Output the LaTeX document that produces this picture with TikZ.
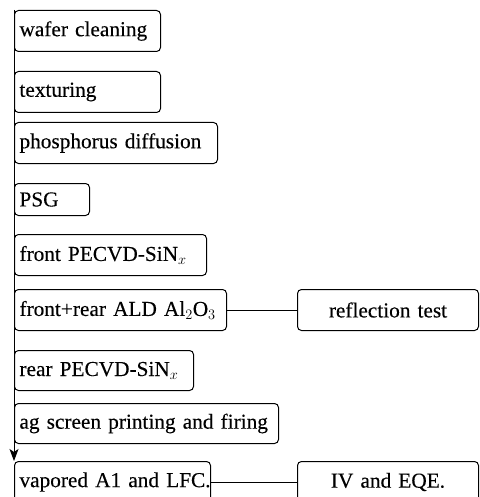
\documentclass[tikz,border=0pt]{standalone}
\usepackage{fontspec}
\setmainfont{Liberation Serif}[FakeBold=0.25]
\usetikzlibrary{arrows.meta}
\begin{document}
\begin{tikzpicture}[x=1pt,y=-1pt,
  stepbox/.style={draw, line width=1pt, rounded corners=4pt, anchor=north west,
    inner xsep=5pt, inner ysep=0pt, align=left, font=\fontsize{21.3}{25}\selectfont},
  testbox/.style={stepbox, align=center},
  conn/.style={line width=1pt}]
\useasboundingbox (0,0) rectangle (479,497);
\clip (0,0) rectangle (479,497);
\node[stepbox, minimum height=41pt, text width=136pt] (b1) at (14,10) {\mbox{wafer cleaning}};
\node[stepbox, minimum height=41pt, text width=136pt] (b2) at (14,71) {\mbox{texturing}};
\node[stepbox, minimum height=41pt, text width=193pt] (b3) at (14,122) {\mbox{phosphorus diffusion}};
\node[stepbox, minimum height=32pt, text width=65pt] (b4) at (14,183) {\mbox{PSG}};
\node[stepbox, minimum height=41pt, text width=182pt] (b5) at (14,234) {\mbox{front PECVD-SiN$_x$}};
\node[stepbox, minimum height=41pt, text width=202pt] (b6) at (14,289) {\mbox{front+rear ALD Al$_2$O$_3$}};
\node[testbox, minimum height=41pt, text width=171pt] (r1) at (297,289) {reflection test};
\node[stepbox, minimum height=40pt, text width=169pt] (b7) at (14,350) {\mbox{rear PECVD-SiN$_x$}};
\node[stepbox, minimum height=40pt, text width=254pt] (b8) at (14,403) {\mbox{ag screen printing and firing}};
\node[stepbox, minimum height=41pt, text width=186pt] (b9) at (14,461) {\mbox{vapored A1 and LFC.}};
\node[testbox, minimum height=41pt, text width=171pt] (r2) at (297,461) {IV and EQE.};
\draw[conn, -{Stealth[length=12pt,width=9pt,inset=3pt]}] (b1.north west) -- (b9.north west);
\draw[conn] (b6.east) -- (r1.west);
\draw[conn] (b9.east) -- (r2.west);
\end{tikzpicture}
\end{document}
